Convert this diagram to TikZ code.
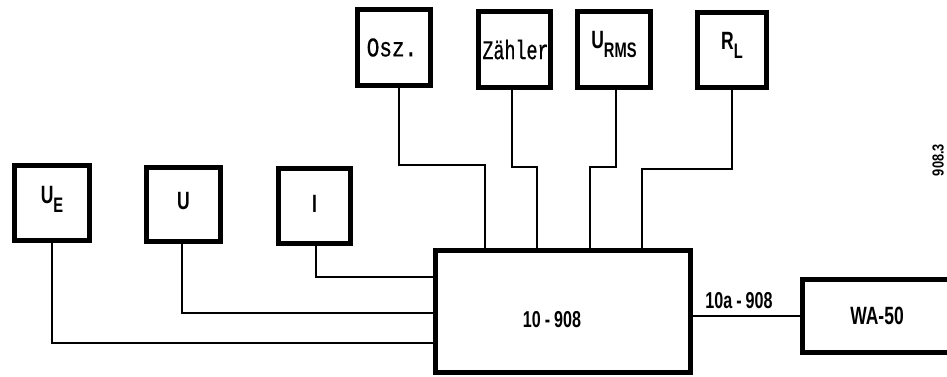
\documentclass[tikz,border=0pt]{standalone}
\usepackage{fontspec}
\setmainfont{Liberation Sans}
\newfontfamily\labf{Liberation Sans Bold}[FakeStretch=0.7]
\newfontfamily\codef{Liberation Sans Bold}[FakeStretch=0.8]
\newfontfamily\monoA{Liberation Mono}[FakeStretch=0.78, FakeBold=0.6]
\newfontfamily\monoB{Liberation Mono}[FakeStretch=0.68, FakeBold=0.6]
\newcommand\lowsub[1]{\raisebox{-9pt}{\fontsize{21}{21}\selectfont\labf #1}}
\begin{document}
\begin{tikzpicture}[x=1pt,y=-1pt,
  blk/.style={draw=black, line width=4.6pt, inner sep=0pt, fill=white},
  wire/.style={draw=black, line width=1.2pt},
  lab/.style={font={\fontsize{25}{25}\selectfont\labf}, inner sep=0pt},
  labs/.style={font={\fontsize{23}{23}\selectfont\labf}, inner sep=0pt},
  mlabA/.style={font={\fontsize{27}{27}\selectfont\monoA}, inner sep=0pt},
  mlabB/.style={font={\fontsize{27}{27}\selectfont\monoB}, inner sep=0pt}]
\useasboundingbox (0,0) rectangle (947,377);
\begin{scope}
\clip (0,0) rectangle (947,377);
% blocks
\node[blk, minimum width=75.4pt, minimum height=75.4pt] (ue) at (52,203) {};
\node[blk, minimum width=74.4pt, minimum height=74.4pt] (u) at (183.5,204.5) {};
\node[blk, minimum width=72.4pt, minimum height=75.4pt] (i) at (314.5,206) {};
\node[blk, minimum width=73.4pt, minimum height=76.4pt] (osz) at (394,47.5) {};
\node[blk, minimum width=72.4pt, minimum height=76.4pt] (zahl) at (514.5,49.5) {};
\node[blk, minimum width=73.4pt, minimum height=76.4pt] (urms) at (614,49.5) {};
\node[blk, minimum width=69.4pt, minimum height=75.4pt] (rl) at (732,50) {};
\node[blk, minimum width=255.4pt, minimum height=122.4pt] (main) at (563,311.5) {};
\node[blk, minimum width=155.4pt, minimum height=73.4pt] (wa) at (880,316) {};
% texts
\node[lab] at ([yshift=4]ue.center) {U\lowsub{E}};
\node[lab] at ([yshift=3]u.center) {U};
\node[lab] at ([yshift=2]i.center) {I};
\node[mlabA] at ([xshift=-2]osz.center) {Osz.};
\node[mlabB] at ([xshift=1]zahl.center) {Zähler};
\node[lab] at ([yshift=5]urms.center) {U\lowsub{RMS}};
\node[lab] at ([yshift=5]rl.center) {R\lowsub{L}};
\node[labs] at ([shift={(-11,8)}]main.center) {10\hspace{4pt}-\hspace{4pt}908};
\node[lab] at ([xshift=-3]wa.center) {WA-50};
\node[labs] (cab) at (739,301) {10a\hspace{4pt}-\hspace{4pt}908};
\node[font={\fontsize{16}{16}\selectfont\codef}, rotate=90, inner sep=0pt] (code) at (938,160) {908.3};
% wires to the left of main
\draw[wire] (ue.south) |- (main.west |- 0,343);
\draw[wire] ([xshift=-1.5]u.south) |- (main.west |- 0,313);
\draw[wire] ([xshift=1.5]i.south) |- (main.west |- 0,277);
% wires above main
\draw[wire] ([xshift=5]osz.south) |- (485,165) -- (main.north -| 485,0);
\draw[wire] ([xshift=-2.5]zahl.south) |- (537,167) -- (main.north -| 537,0);
\draw[wire] ([xshift=2]urms.south) |- (590,167) -- (main.north -| 590,0);
\draw[wire] (rl.south) |- (642,169) -- (main.north -| 642,0);
% main to WA-50
\draw[wire] (main.east |- wa.west) -- (wa.west);
% redraw borders over wire ends
\foreach \n in {ue,u,i,osz,zahl,urms,rl,main,wa}{\draw[line width=4.6pt] (\n.south west) ++(2.3,-2.3) rectangle ([shift={(-2.3,2.3)}]\n.north east);}
\end{scope}
\end{tikzpicture}
\end{document}
